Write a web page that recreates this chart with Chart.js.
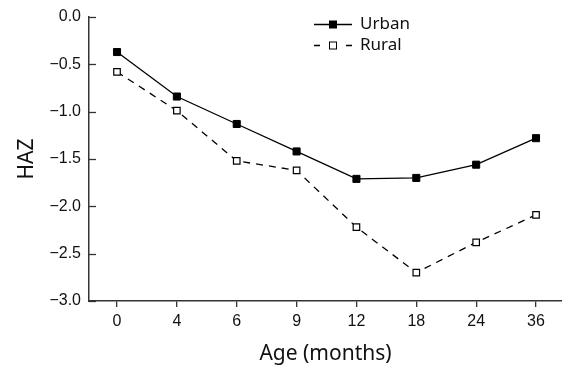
<!DOCTYPE html>
<html>
<head>
<meta charset="utf-8">
<script src="https://cdn.jsdelivr.net/npm/chart.js@4.4.0/dist/chart.umd.min.js"></script>
<style>
  html, body { margin: 0; padding: 0; background: #fff; }
  #wrap { width: 562px; height: 368px; }
</style>
</head>
<body>
<div id="wrap"><canvas id="chart"></canvas></div>
<script>
const ages = ["0", "4", "6", "9", "12", "18", "24", "36"];
const urban = [-0.37, -0.84, -1.13, -1.42, -1.71, -1.70, -1.56, -1.28];
const rural = [-0.58, -0.99, -1.52, -1.62, -2.22, -2.70, -2.38, -2.09];
const yTicks = [0, -0.5, -1, -1.5, -2, -2.5, -3];

const axisColor = "#333";

// y ticks point into the plot in the original
const innerTicks = {
  id: "innerTicks",
  afterDraw(chart) {
    const y = chart.scales.y;
    const ctx = chart.ctx;
    ctx.save();
    ctx.strokeStyle = axisColor;
    ctx.lineWidth = 1.3;
    y.ticks.forEach((t, i) => {
      const py = Math.round(y.getPixelForTick(i)) + 0.5;
      ctx.beginPath();
      ctx.moveTo(y.right, py);
      ctx.lineTo(y.right + 7, py);
      ctx.stroke();
    });
    ctx.restore();
  }
};

// legend drawn inside the plot: line + marker + label
const insideLegend = {
  id: "insideLegend",
  afterDraw(chart) {
    const ctx = chart.ctx;
    ctx.save();
    chart.data.datasets.forEach((ds, i) => {
      const y = 24 + i * 21 + 0.5;
      ctx.strokeStyle = ds.borderColor;
      ctx.lineWidth = ds.borderWidth;
      ctx.setLineDash(ds.borderDash && ds.borderDash.length ? [6, 26] : []);
      ctx.beginPath();
      ctx.moveTo(314, y);
      ctx.lineTo(352, y);
      ctx.stroke();
      ctx.setLineDash([]);
      ctx.fillStyle = ds.pointBackgroundColor;
      ctx.fillRect(329.5, y - 3.5, 7, 7);
      ctx.lineWidth = 1;
      ctx.strokeRect(329.5, y - 3.5, 7, 7);
      ctx.fillStyle = "#111";
      ctx.font = "17px 'Noto Sans'";
      ctx.textBaseline = "middle";
      ctx.fillText(ds.label, 360, y);
    });
    ctx.restore();
  }
};

const ctx = document.getElementById("chart");

const data = {
  datasets: [
    {
      label: "Urban",
      data: urban.map((v, i) => ({ x: i, y: v })),
      borderColor: "#000",
      borderWidth: 1.3,
      pointStyle: "rect",
      pointRadius: 5,
      pointBackgroundColor: "#000",
      pointBorderColor: "#000",
      pointBorderWidth: 1,
      clip: false,
    },
    {
      label: "Rural",
      data: rural.map((v, i) => ({ x: i, y: v })),
      borderColor: "#000",
      borderWidth: 1.3,
      borderDash: [7, 6],
      pointStyle: "rect",
      pointRadius: 4.6,
      pointBackgroundColor: "#fff",
      pointBorderColor: "#000",
      pointBorderWidth: 1.2,
      clip: false,
    },
  ],
};

const config = {
  type: "line",
  data,
  options: {
    responsive: true,
    maintainAspectRatio: false,
    animation: false,
    layout: { autoPadding: false, padding: { top: 17, right: 0, left: 0, bottom: 0 } },
    scales: {
      x: {
        type: "linear",
        min: -0.468,
        max: 7.434,
        afterBuildTicks: (scale) => {
          scale.ticks = ages.map((a, i) => ({ value: i }));
        },
        afterFit: (scale) => {
          scale.height = 67;
          scale.paddingLeft = 0;
          scale.paddingRight = 0;
        },
        ticks: {
          callback: (value) => ages[value],
          color: "#111",
          font: { family: "'Liberation Sans'", size: 16 },
          padding: 5,
          maxRotation: 0,
        },
        grid: {
          drawOnChartArea: false,
          tickLength: 6,
          color: axisColor,
          lineWidth: 1.3,
        },
        border: { color: axisColor, width: 1.5 },
        title: {
          display: true,
          text: "Age (months)",
          color: "#111",
          font: { family: "'Noto Sans'", size: 21 },
          padding: { top: 0, bottom: 1 },
        },
      },
      y: {
        min: -3,
        max: 0,
        afterBuildTicks: (scale) => {
          scale.ticks = yTicks.map((v) => ({ value: v }));
        },
        afterFit: (scale) => {
          scale.width = 89;
          scale.paddingTop = 0;
          scale.paddingBottom = 0;
        },
        ticks: {
          callback: (value) => (value < 0 ? "\u2212" : "") + Math.abs(value).toFixed(1),
          color: "#111",
          font: { family: "'Liberation Sans'", size: 16 },
          padding: 8,
        },
        grid: { display: false, drawTicks: false, tickLength: 0 },
        border: { display: true, color: axisColor, width: 1.5 },
        title: {
          display: true,
          text: "HAZ",
          color: "#111",
          font: { family: "'Noto Sans'", size: 21 },
          padding: { top: 14, bottom: 0 },
        },
      },
    },
    plugins: {
      legend: { display: false },
      tooltip: { enabled: false },
    },
  },
  plugins: [innerTicks, insideLegend],
};

const myChart = new Chart(ctx, config);
</script>
</body>
</html>
